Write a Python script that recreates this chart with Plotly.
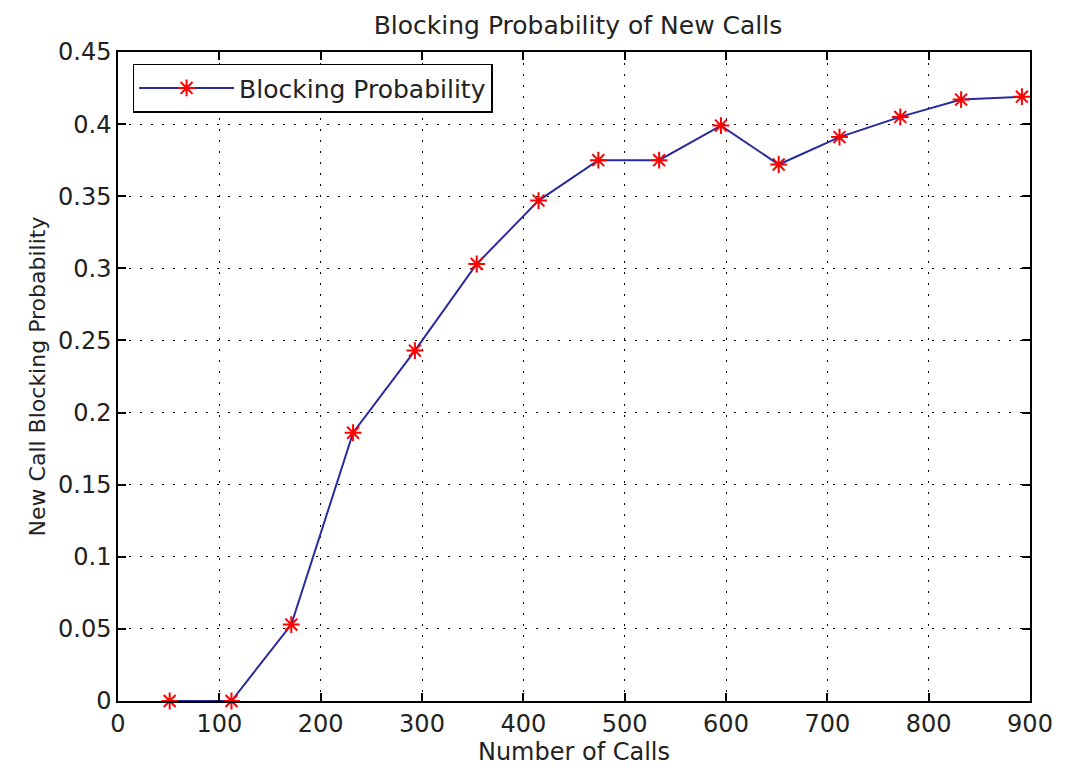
import plotly.graph_objects as go

# Data
num_calls = [51, 112, 171, 232, 293, 354, 415, 474, 534, 595, 652, 712, 772, 832, 892]
blocking_prob = [0.0, 0.0, 0.053, 0.186, 0.243, 0.303, 0.347, 0.375, 0.375, 0.399,
                 0.372, 0.391, 0.405, 0.417, 0.419]
x_ticks = [0, 100, 200, 300, 400, 500, 600, 700, 800, 900]
y_ticks = [0, 0.05, 0.1, 0.15, 0.2, 0.25, 0.3, 0.35, 0.4, 0.45]
y_tick_labels = ["0", "0.05", "0.1", "0.15", "0.2", "0.25", "0.3", "0.35", "0.4", "0.45"]

FONT = "DejaVu Sans"
TXT = "#222222"

fig = go.Figure()
fig.add_trace(go.Scatter(
    x=num_calls, y=blocking_prob,
    mode="lines+markers",
    name="Blocking Probability",
    line=dict(color="#2a2a9e", width=2),
    marker=dict(symbol="asterisk-open", size=14, color="red",
                line=dict(color="red", width=2)),
    cliponaxis=False,
))

axis_common = dict(
    showline=True, linecolor="black", linewidth=1.5, mirror="ticks",
    ticks="inside", ticklen=8, tickwidth=1.5, tickcolor="black",
    showgrid=True, gridcolor="black", gridwidth=1, griddash="2px,9px",
    zeroline=False,
    tickfont=dict(family=FONT, size=24, color=TXT),
)

fig.update_layout(
    width=1065, height=770,
    margin=dict(l=118, r=27, t=52, b=67),
    paper_bgcolor="white", plot_bgcolor="white",
    title=dict(text="Blocking Probability of New Calls",
               font=dict(family=FONT, size=25, color=TXT),
               x=(118 + 920 / 2) / 1065, xanchor="center",
               y=1 - 25 / 770, yanchor="middle"),
    xaxis=dict(range=[0, 900], tickvals=x_ticks,
               title=dict(text="Number of Calls", standoff=4,
                          font=dict(family=FONT, size=24, color=TXT)),
               **axis_common),
    yaxis=dict(range=[0, 0.45], tickvals=y_ticks, ticktext=y_tick_labels,
               title=dict(text="New Call Blocking Probability", standoff=6,
                          font=dict(family=FONT, size=22, color=TXT)),
               **axis_common),
    showlegend=True,
    legend=dict(x=0.016, y=0.982, xanchor="left", yanchor="top",
                bgcolor="white", bordercolor="black", borderwidth=1.5,
                font=dict(family=FONT, size=25, color=TXT),
                itemwidth=95),
)

fig.write_html("out.html")
